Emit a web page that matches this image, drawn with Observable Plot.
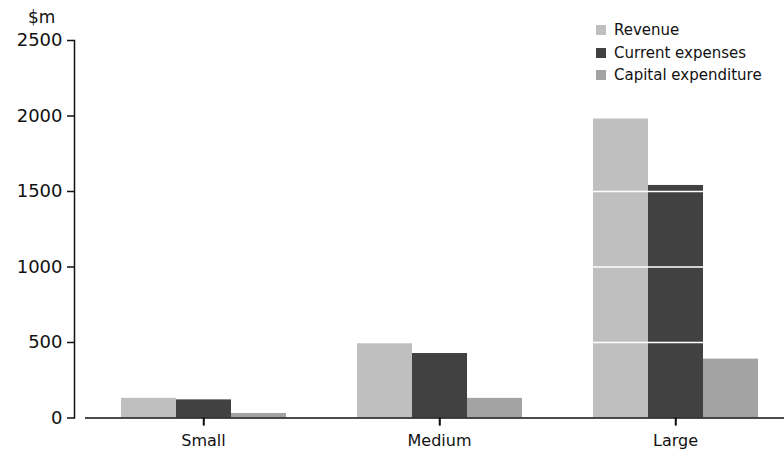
<!DOCTYPE html>
<html>
<head>
<meta charset="utf-8">
<script src="https://cdn.jsdelivr.net/npm/d3@7"></script>
<script src="https://cdn.jsdelivr.net/npm/@observablehq/plot@0.6"></script>
<style>
  html, body { margin: 0; padding: 0; background: #fff; }
  #wrap { position: relative; width: 784px; height: 455px; overflow: hidden; font-family: "DejaVu Sans", sans-serif; }
  #legend { position: absolute; left: 596px; top: 19px; font-size: 15px; color: #111; }
  #legend .row { display: flex; align-items: center; height: 22.5px; }
  #legend .sw { width: 10px; height: 10px; margin-right: 8px; }
  #unit { position: absolute; left: 28px; top: 7px; font-size: 17px; color: #111; }
</style>
</head>
<body>
<div id="wrap"><div id="unit">$m</div><div id="legend"></div></div>
<script>
const groups = ["Small", "Medium", "Large"];
const series = ["Revenue", "Current expenses", "Capital expenditure"];
const revenue = [130, 493, 1980];
const currentExpenses = [120, 427, 1540];
const capitalExpenditure = [30, 130, 390];
const yTicks = [0, 500, 1000, 1500, 2000, 2500];
const colors = ["#bfbfbf", "#414141", "#a3a3a3"];

const valuesBySeries = [revenue, currentExpenses, capitalExpenditure];
const data = [];
groups.forEach((g, gi) => series.forEach((s, si) => data.push({group: g, series: s, value: valuesBySeries[si][gi]})));

const marginTop = 40, marginBottom = 37.5, height = 455;

const chart = Plot.plot({
  width: 784,
  height,
  marginTop,
  marginBottom,
  marginLeft: 85,
  marginRight: 0,
  style: {fontFamily: "DejaVu Sans, sans-serif", fontSize: "17px", color: "#111", background: "transparent", overflow: "visible"},
  fx: {domain: groups, range: [85, 793], padding: 0, label: null, axis: null},
  x: {domain: series, paddingInner: 0, paddingOuter: 0.643, axis: null},
  y: {domain: [0, 2500], axis: null},
  color: {domain: series, range: colors},
  marks: [
    Plot.barY(data, {fx: "group", x: "series", y: "value", fill: "series"}),
    Plot.gridY([500, 1000, 1500, 2000], {stroke: "white", strokeOpacity: 1, strokeWidth: 1.6}),
    Plot.ruleY([0], {stroke: "#111", strokeWidth: 1.5}),
    // group tick marks below the baseline, at each group's centre
    Plot.ruleX(groups, {fx: d => d, x: () => series[1], stroke: "#111", strokeWidth: 1.5,
      insetTop: height - marginTop - marginBottom, insetBottom: -8}),
    Plot.axisFx({anchor: "bottom", tickSize: 8, tickPadding: 9, fontSize: 16, label: null, stroke: "#111", strokeWidth: 1.5}),
    Plot.axisY(yTicks, {anchor: "left", dx: -11, tickSize: 7, tickPadding: 5, tickFormat: d => String(d), fontSize: 18, label: null, stroke: "#111", strokeWidth: 1.5, facetAnchor: "left"}),
    Plot.frame({anchor: "left", dx: -11, stroke: "#111", strokeWidth: 1.5, facetAnchor: "left"})
  ]
});
document.getElementById("wrap").prepend(chart);

const legend = document.getElementById("legend");
series.forEach((s, i) => {
  const row = document.createElement("div");
  row.className = "row";
  row.innerHTML = `<span class="sw" style="background:${colors[i]}"></span><span>${s}</span>`;
  legend.appendChild(row);
});
</script>
</body>
</html>
